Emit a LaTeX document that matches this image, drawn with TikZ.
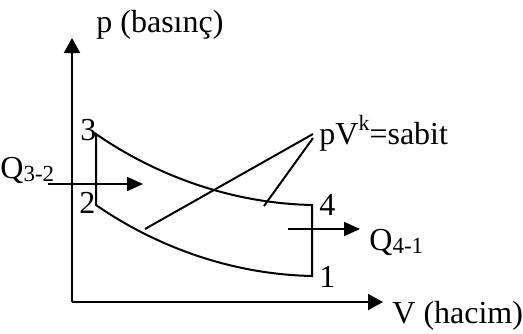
\documentclass[tikz,border=0pt]{standalone}
\usepackage{fontspec}
\setmainfont{Liberation Serif}
\usetikzlibrary{arrows.meta}
\newcommand{\lowsub}[1]{\raisebox{-1.5pt}{\fontsize{11.5}{13}\selectfont #1}}
\newcommand{\highsup}[1]{\raisebox{7pt}{\fontsize{11}{13}\selectfont #1}}

\begin{document}
\begin{tikzpicture}[x=0.5pt, y=-0.5pt,
    every node/.style={inner sep=0pt, anchor=base west, font=\fontsize{16}{19}\selectfont},
    thin line/.style={line width=1pt},
    axis/.style={thin line, -{Triangle[length=7.5pt,width=8pt]}},
    heat/.style={thin line, -{Triangle[length=8pt,width=7pt]}}]
        \useasboundingbox (0,0) rectangle (523,333);
        % axes
        \coordinate (O) at (72,302);
        \coordinate (ptop) at (72,38);
        \coordinate (vend) at (383,302);
        \draw[axis] (O) -- (ptop);
        \draw[axis] (O) -- (vend);
        \node (plabel) at (96,32) {p (basınç)};
        \node (vlabel) at (392,323) {V (hacim)};
        % cycle 1-2-3-4
        \coordinate (s1) at (312,276);
        \coordinate (s2) at (96,205);
        \coordinate (s3) at (96,134);
        \coordinate (s4) at (312,205);
        \draw[thin line] (s1) .. controls (220,274) and (145,239) .. (s2) -- (s3)
          .. controls (145,168) and (220,203) .. (s4) -- cycle;
        \node (n1) at (319,287) {1};
        \node (n2) at (79,213) {2};
        \node (n3) at (80,140) {3};
        \node (n4) at (319,215) {4};
        % heat in and out
        \coordinate (qin) at (48,184);
        \coordinate (qintip) at (143,184);
        \draw[heat] (qin) -- (qintip);
        \node (q32) at (0,178) {Q\lowsub{3-2}};
        \coordinate (qout) at (288,229);
        \coordinate (qouttip) at (360,229);
        \draw[heat] (qout) -- (qouttip);
        \node (q41) at (369,250) {Q\lowsub{4-1}};
        % adiabats
        \node (law) at (319,144) {pV\highsup{k}=sabit};
        \coordinate (k1) at (313,134);
        \coordinate (k1end) at (145,229);
        \coordinate (k2) at (313,138);
        \coordinate (k2end) at (264,206);
        \draw[thin line] (k1) -- (k1end);
        \draw[thin line] (k2) -- (k2end);
      \end{tikzpicture}
\end{document}
